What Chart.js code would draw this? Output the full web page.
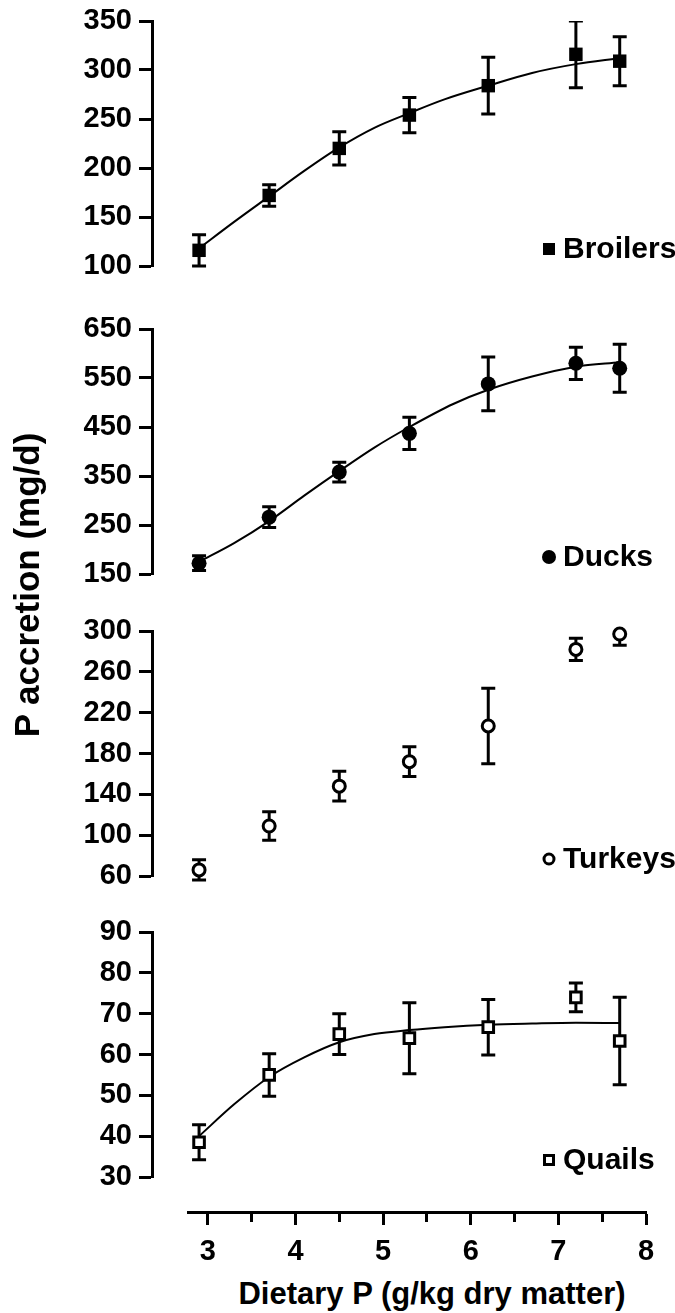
<!DOCTYPE html>
<html>
<head>
<meta charset="utf-8">
<script src="https://cdn.jsdelivr.net/npm/chart.js@4.4.1/dist/chart.umd.min.js"></script>
<style>
  body { margin: 0; background: #fff; }
  #wrap { position: relative; width: 675px; height: 1313px; overflow: hidden; background: #fff; }
  canvas { position: absolute; left: 0; }
  .title {
    position: absolute; height: 40px; line-height: 40px; text-align: center; white-space: nowrap;
    font-family: "Liberation Sans", Arial, sans-serif; font-weight: bold; color: #000;
  }
  #ytitle { left: -173px; top: 565px; width: 400px; font-size: 35px; transform: rotate(-90deg); }
  #xtitle { left: 232px; top: 1274px; width: 400px; font-size: 31px; }
</style>
</head>
<body>
<div id="wrap">
  <canvas id="c1" width="675" height="297" style="top:-5px"></canvas>
  <canvas id="c2" width="675" height="297" style="top:303px"></canvas>
  <canvas id="c3" width="675" height="297" style="top:605px"></canvas>
  <canvas id="c4" width="675" height="297" style="top:906px"></canvas>
  <canvas id="cx" width="675" height="90" style="top:1180px"></canvas>
  <div class="title" id="ytitle">P accretion (mg/d)</div>
  <div class="title" id="xtitle">Dietary P (g/kg dry matter)</div>
</div>
<script>
// dietary P levels (g/kg dry matter)
const dietaryP = [2.9, 3.7, 4.5, 5.3, 6.2, 7.2, 7.7];

// broilers
const broilersMean = [116, 172, 220, 254, 284, 316, 309];
const broilersErr = [16, 11, 17, 18, 29, 34, 25];
const broilersCurveX = [2.9, 3.3, 3.7, 4.1, 4.5, 4.9, 5.3, 5.7, 6.2, 6.7, 7.2, 7.7];
const broilersCurveY = [118, 145, 171, 197, 221, 241, 256, 270, 284, 297, 306, 312];

// ducks
const ducksMean = [172, 266, 358, 437, 538, 580, 570];
const ducksErr = [15, 21, 20, 33, 55, 33, 49];
const ducksCurveX = [2.9, 3.3, 3.7, 4.1, 4.5, 4.9, 5.3, 5.8, 6.2, 6.7, 7.2, 7.7];
const ducksCurveY = [175, 213, 258, 310, 360, 408, 450, 497, 526, 553, 573, 582];

// turkeys (no fitted curve)
const turkeysMean = [66, 109, 148, 172, 207, 282, 297];
const turkeysErr = [10, 14, 14.5, 14.5, 37, 11, 11];

// quails
const quailsMean = [38.5, 55, 65, 64, 66.7, 74, 63.3];
const quailsErr = [4.3, 5.2, 5, 8.7, 6.8, 3.5, 10.7];
const quailsCurveX = [2.9, 3.3, 3.7, 4.1, 4.5, 4.9, 5.3, 5.7, 6.2, 6.7, 7.2, 7.7];
const quailsCurveY = [40, 47.8, 54.5, 59.3, 63, 65, 66, 66.7, 67.3, 67.6, 67.8, 67.7];

// axis ranges [min, max, step]
const xTickLabels = [3, 4, 5, 6, 7, 8];
const broilersAxis = [100, 350, 50];
const ducksAxis = [150, 650, 100];
const turkeysAxis = [60, 300, 40];
const quailsAxis = [30, 90, 10];

Chart.defaults.font.family = '"Liberation Sans", Arial, sans-serif';
Chart.defaults.font.weight = 'bold';
Chart.defaults.font.size = 29;
Chart.defaults.color = '#000';

// vertical error bars, drawn under the markers
const errorBars = {
  id: 'errorBars',
  beforeDatasetsDraw(chart) {
    const ds = chart.data.datasets[0];
    const x = chart.scales.x, y = chart.scales.y;
    const area = chart.chartArea;
    const ctx = chart.ctx;
    ctx.save();
    ctx.beginPath();
    ctx.rect(area.left, area.top, area.right - area.left, area.bottom - area.top + 10);
    ctx.clip();
    ctx.strokeStyle = '#000';
    ctx.lineWidth = 3;
    ds.data.forEach((p, i) => {
      const px = x.getPixelForValue(p.x);
      const top = y.getPixelForValue(p.y + ds.errors[i]);
      const bot = y.getPixelForValue(p.y - ds.errors[i]);
      ctx.beginPath();
      ctx.moveTo(px, top); ctx.lineTo(px, bot);
      ctx.moveTo(px - 7, top); ctx.lineTo(px + 7, top);
      ctx.moveTo(px - 7, bot); ctx.lineTo(px + 7, bot);
      ctx.stroke();
    });
    ctx.restore();
  }
};

// the little legend in the lower right corner of each panel
const panelLegend = {
  id: 'panelLegend',
  afterDraw(chart, args, opts) {
    if (!opts.text) return;
    const ctx = chart.ctx;
    const yc = chart.chartArea.bottom - 17;
    const xc = 549;
    ctx.save();
    ctx.lineWidth = 3;
    ctx.strokeStyle = '#000';
    ctx.fillStyle = opts.fill ? '#000' : '#fff';
    ctx.beginPath();
    if (opts.style === 'rect') {
      const s = opts.fill ? 6 : 4.5;
      ctx.rect(xc - s, yc - s, 2 * s, 2 * s);
    } else {
      ctx.arc(xc, yc, opts.fill ? 7 : 5, 0, Math.PI * 2);
    }
    ctx.fill();
    if (!opts.fill) ctx.stroke();
    ctx.fillStyle = '#000';
    ctx.font = 'bold 30px "Liberation Sans", Arial, sans-serif';
    ctx.textBaseline = 'middle';
    ctx.fillText(opts.text, 563, yc + 1);
    ctx.restore();
  }
};

function toPoints(xs, ys) {
  return xs.map((v, i) => ({ x: v, y: ys[i] }));
}

function makePanel(id, mean, errs, curveX, curveY, axis, marker, label) {
  const datasets = [{
    data: toPoints(dietaryP, mean),
    errors: errs,
    pointStyle: marker.style,
    pointRadius: marker.radius,
    pointHoverRadius: marker.radius,
    backgroundColor: marker.fill ? '#000' : '#fff',
    borderColor: '#000',
    borderWidth: marker.fill ? 0 : 3,
    clip: 10
  }];
  if (curveX) {
    datasets.push({
      data: toPoints(curveX, curveY),
      showLine: true,
      pointRadius: 0,
      borderColor: '#000',
      borderWidth: 2,
      tension: 0.4,
      cubicInterpolationMode: 'monotone',
      clip: 5
    });
  }
  return new Chart(document.getElementById(id), {
    type: 'scatter',
    data: { datasets: datasets },
    options: {
      responsive: false,
      animation: false,
      events: [],
      // 26px above and below leaves a 245px plot area in every panel
      layout: { padding: { top: 26, bottom: 26, left: 0, right: 29 } },
      plugins: {
        legend: { display: false },
        tooltip: { enabled: false },
        panelLegend: { text: label, style: marker.style, fill: marker.fill }
      },
      scales: {
        x: { type: 'linear', display: false, min: 2.363, max: 8 },
        y: {
          min: axis[0], max: axis[1],
          afterFit: s => { s.width = 152; },
          ticks: { stepSize: axis[2], padding: 7 },
          grid: { drawOnChartArea: false, tickLength: 13, tickWidth: 3, color: '#000' },
          border: { display: true, width: 3, color: '#000' }
        }
      }
    },
    plugins: [errorBars, panelLegend]
  });
}

makePanel('c1', broilersMean, broilersErr, broilersCurveX, broilersCurveY, broilersAxis,
  { style: 'rect', radius: 9.5, fill: true }, 'Broilers');
makePanel('c2', ducksMean, ducksErr, ducksCurveX, ducksCurveY, ducksAxis,
  { style: 'circle', radius: 7.5, fill: true }, 'Ducks');
makePanel('c3', turkeysMean, turkeysErr, null, null, turkeysAxis,
  { style: 'circle', radius: 6, fill: false }, 'Turkeys');
makePanel('c4', quailsMean, quailsErr, quailsCurveX, quailsCurveY, quailsAxis,
  { style: 'rect', radius: 7.5, fill: false }, 'Quails');

// shared x axis at the bottom
new Chart(document.getElementById('cx'), {
  type: 'scatter',
  data: { datasets: [] },
  options: {
    responsive: false,
    animation: false,
    events: [],
    layout: { padding: { top: 0, bottom: 0, left: 188, right: 29 } },
    plugins: { legend: { display: false }, tooltip: { enabled: false } },
    scales: {
      y: { display: false, min: 0, max: 1 },
      x: {
        type: 'linear', min: 2.774, max: 8,
        afterFit: s => { s.height = 58; },
        ticks: {
          stepSize: 0.5, includeBounds: false, autoSkip: false, maxRotation: 0, padding: 10,
          callback: v => xTickLabels.includes(v) ? String(v) : ''
        },
        grid: {
          drawOnChartArea: false, tickLength: 13, tickWidth: 3, color: '#000',
          tickBorderDash: c => (c.tick && c.tick.value % 1 !== 0) ? [8, 40] : []
        },
        border: { display: true, width: 3, color: '#000' }
      }
    }
  }
});
</script>
</body>
</html>
